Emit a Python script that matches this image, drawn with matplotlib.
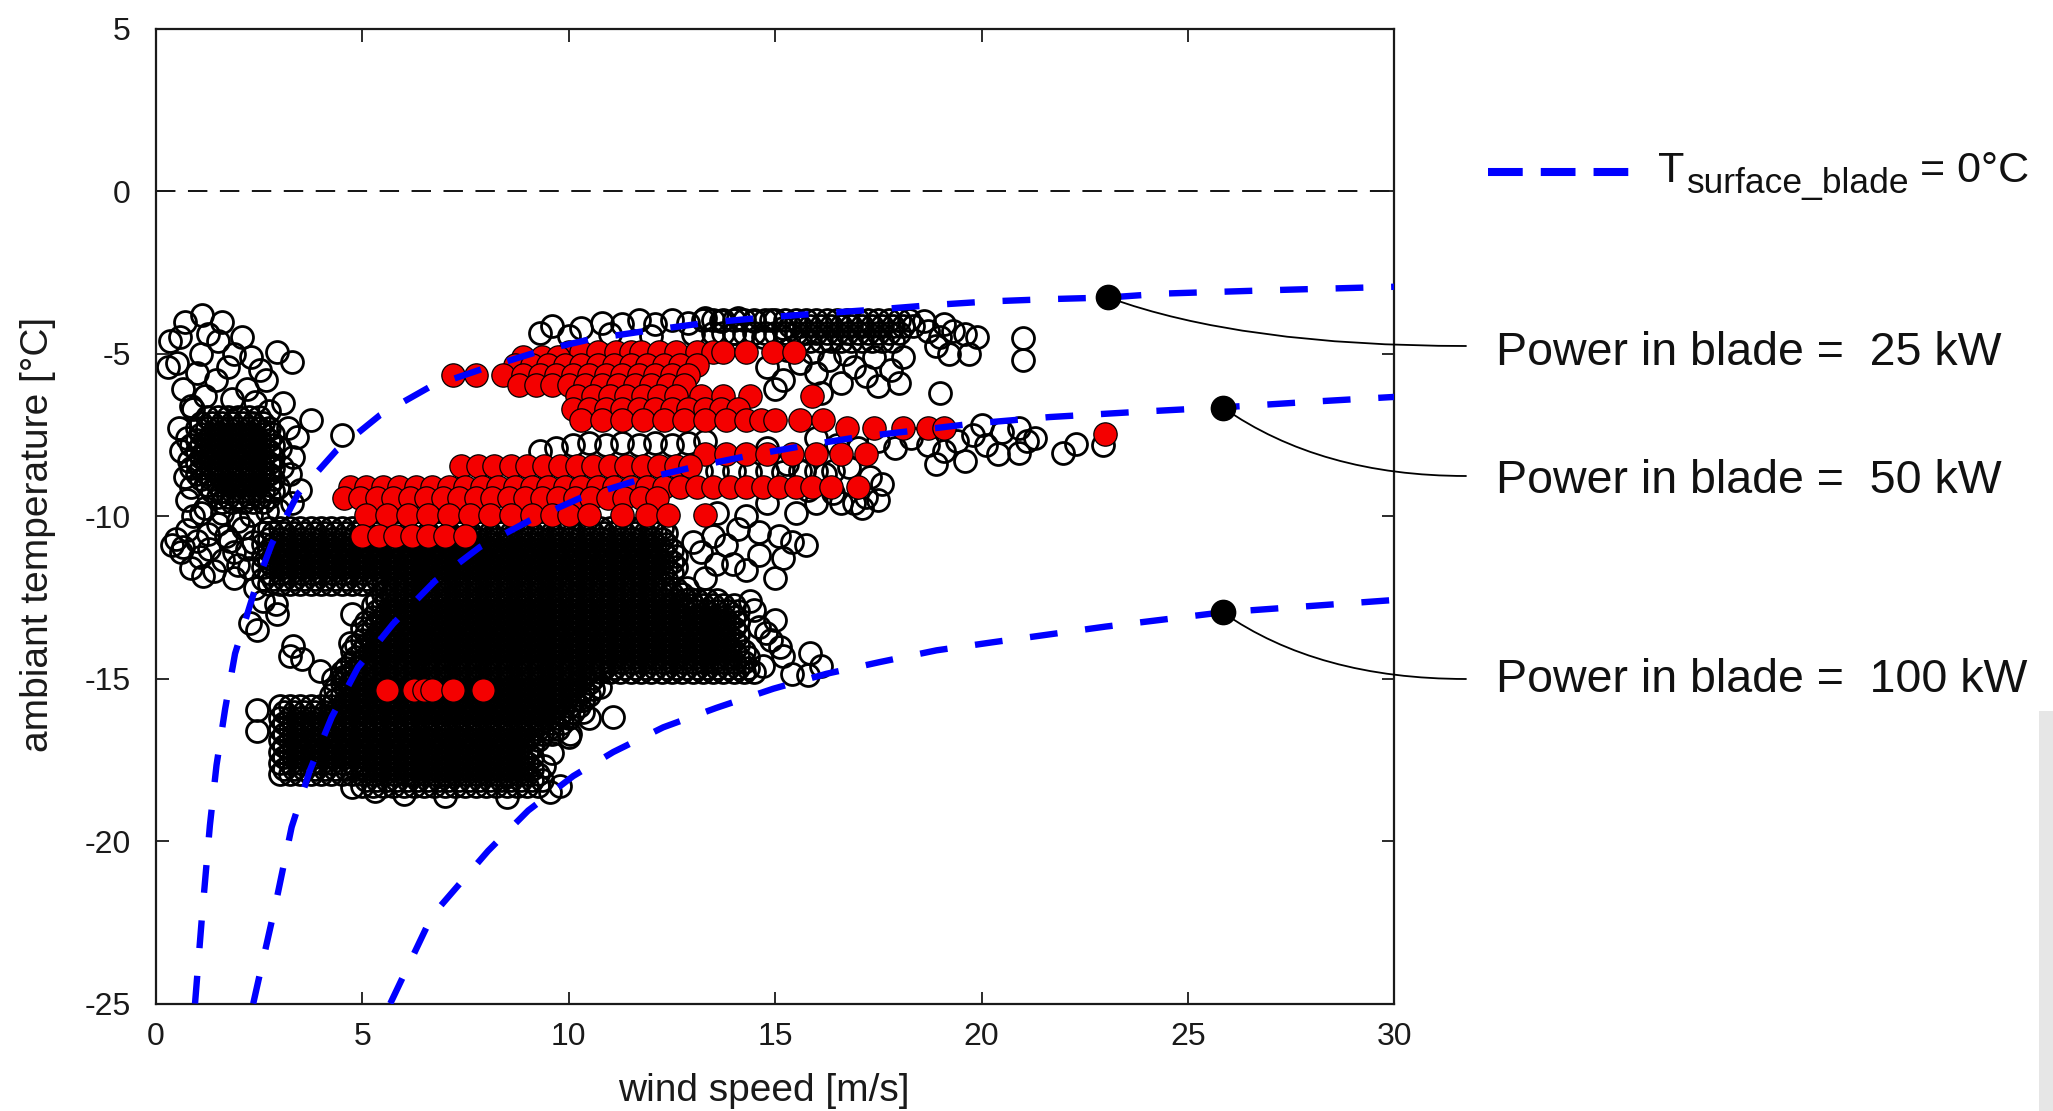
import matplotlib
matplotlib.use("Agg")
import matplotlib.pyplot as plt
from matplotlib.lines import Line2D
from matplotlib.patches import Rectangle

plt.rcParams['font.family'] = ['Liberation Sans', 'DejaVu Sans']
plt.rcParams['axes.unicode_minus'] = False
plt.rcParams['lines.scale_dashes'] = False

# ---------------- data ----------------
# blade-surface = 0 degC boundary curves for 25 / 50 / 100 kW
c25_x = [0.95, 1.12, 1.31, 1.47, 1.68, 1.92, 2.28, 2.44, 2.81, 3.45, 4.38, 5.43, 6.64, 7.93,
         9.38, 10.55, 11.97, 13.34, 14.71, 16.09, 17.46, 18.83, 20.2, 21.65, 23.07, 24.4, 27.15, 30.0]
c25_y = [-25.0, -22.3, -19.52, -17.67, -15.93, -14.23, -12.75, -12.1, -10.85, -9.3, -7.97, -6.89,
         -6.02, -5.46, -4.89, -4.55, -4.28, -4.05, -3.89, -3.76, -3.64, -3.5, -3.39, -3.32, -3.27,
         -3.15, -3.04, -2.94]
c50_x = [2.36, 2.9, 3.29, 3.73, 4.26, 4.9, 5.75, 6.76, 7.85, 9.06, 10.3, 11.65, 13.02, 14.39,
         15.76, 17.05, 18.43, 19.8, 21.65, 23.92, 25.85, 28.1, 30.0]
c50_y = [-25.0, -21.95, -19.57, -17.83, -16.19, -14.65, -13.31, -12.0, -10.95, -10.13, -9.43,
         -8.9, -8.49, -8.13, -7.82, -7.56, -7.36, -7.15, -6.95, -6.78, -6.65, -6.47, -6.33]
c100_x = [5.68, 6.69, 8.05, 9.02, 10.11, 11.08, 12.29, 13.58, 14.96, 16.25, 17.54, 18.91,
          20.28, 23.0, 25.84, 30.0]
c100_y = [-25.0, -22.3, -20.3, -19.06, -18.0, -17.26, -16.5, -15.9, -15.31, -14.85, -14.49,
          -14.13, -13.88, -13.4, -12.96, -12.58]

# annotated points on the curves
dot_x = [23.07, 25.85, 25.84]
dot_y = [-3.27, -6.66, -12.96]
dot_labels = ['Power in blade =  25 kW', 'Power in blade =  50 kW', 'Power in blade =  100 kW']

# wind-speed values used in the dense (overlapping) bands of open circles
xs_A = [0.75, 1.0, 1.25, 1.5, 1.75, 2.0, 2.25, 2.5, 2.75, 3.0, 3.25, 3.5, 3.75, 4.0, 4.25, 4.5,
        4.75, 5.0, 5.25, 5.5, 5.75, 6.0, 6.25, 6.5, 6.75, 7.0, 7.25, 7.5, 7.75, 8.0, 8.25, 8.5,
        8.75, 9.0, 9.25, 9.5, 9.75, 10.0, 10.25, 10.5, 10.75, 11.0, 11.25, 11.5, 11.75, 12.0,
        12.25, 12.5, 12.75, 13.0, 13.25, 13.5, 13.75, 14.0, 14.25, 14.5, 14.75, 15.0, 15.25,
        15.5, 15.75, 16.0, 16.25, 16.5, 16.75, 17.0, 17.25, 17.5, 17.75, 18.0, 18.25, 18.5]
xs_B = [0.85, 1.1, 1.35, 1.6, 1.85, 2.1, 2.35, 2.6, 2.85, 3.1, 3.35, 3.6, 3.85, 4.1, 4.35, 4.6,
        4.85, 5.1, 5.35, 5.6, 5.85, 6.1, 6.35, 6.6, 6.85, 7.1, 7.35, 7.6, 7.85, 8.1, 8.35, 8.6,
        8.85, 9.1, 9.35, 9.6, 9.85, 10.1, 10.35, 10.6, 10.85, 11.1, 11.35, 11.6, 11.85, 12.1,
        12.35, 12.6, 12.85, 13.1, 13.35, 13.6, 13.85, 14.1, 14.35, 14.6, 14.85, 15.1, 15.35,
        15.6, 15.85, 16.1, 16.35, 16.6, 16.85, 17.1, 17.35, 17.6, 17.85, 18.1, 18.35, 18.6]

# dense bands: temperature, which wind-speed list, wind-speed extent
band_y = [-3.95, -4.15, -4.35, -4.6,
          -6.95, -7.12, -7.3, -7.47, -7.65, -7.82, -8.0, -8.17, -8.35, -8.52, -8.7, -8.87,
          -9.05, -9.22, -9.4, -9.57,
          -10.35, -10.52, -10.7, -10.87, -11.05, -11.22, -11.4, -11.57, -11.75, -11.92, -12.08,
          -12.25, -12.4, -12.57, -12.75, -12.92, -13.1, -13.27, -13.45, -13.62, -13.8, -13.97,
          -14.15, -14.32, -14.5, -14.67, -14.8, -14.97, -15.15, -15.32, -15.5, -15.67,
          -15.85, -16.02, -16.2, -16.37, -16.55, -16.72, -16.9, -17.07, -17.25, -17.42, -17.6,
          -17.77, -17.95, -18.12, -18.3]
band_grid = ['A', 'B', 'A', 'B',
             'A', 'B', 'A', 'B', 'A', 'B', 'A', 'B', 'A', 'B', 'A', 'B',
             'A', 'B', 'A', 'B',
             'A', 'B', 'A', 'B', 'A', 'B', 'A', 'B', 'A', 'B', 'A',
             'B', 'A', 'B', 'A', 'B', 'A', 'B', 'A', 'B', 'A', 'B',
             'A', 'B', 'A', 'B', 'A', 'B', 'A', 'B', 'A', 'B',
             'A', 'B', 'A', 'B', 'A', 'B', 'A', 'B', 'A', 'B', 'A',
             'B', 'A', 'B', 'A']
band_lo = [13.25, 15.35, 13.5, 15.6,
           1.25, 1.1, 1.0, 1.1, 1.0, 0.85, 1.0, 1.1, 1.0, 0.85, 1.0, 1.1,
           1.25, 1.35, 1.5, 1.6,
           2.75, 2.6, 2.75, 2.6, 2.75, 2.6, 2.75, 2.6, 2.75, 2.6, 2.75,
           5.6, 5.5, 5.35, 5.25, 5.35, 5.25, 5.1, 5.0, 5.1, 5.0, 4.85,
           4.75, 4.85, 4.75, 4.6, 4.5, 4.6, 4.5, 4.35, 4.25, 4.35,
           3.0, 3.1, 3.0, 3.1, 3.0, 3.1, 3.0, 3.1, 3.0, 3.1, 3.0,
           3.1, 3.0, 5.1, 5.0]
band_hi = [18.25, 18.35, 18.0, 17.85,
           2.5, 2.6, 2.75, 2.85, 2.75, 2.85, 2.75, 2.85, 2.75, 2.85, 2.75, 2.85,
           2.75, 2.85, 2.75, 2.6,
           12.25, 12.35, 12.25, 12.35, 12.5, 12.6, 12.5, 12.6, 12.5, 12.35, 12.25,
           12.6, 12.75, 13.6, 14.0, 14.1, 14.0, 14.1, 14.0, 14.1, 14.0, 14.1,
           14.25, 14.35, 14.25, 14.35, 14.5, 10.6, 10.5, 10.6, 10.5, 10.35,
           10.25, 10.35, 10.0, 9.85, 9.75, 9.6, 9.25, 9.1, 9.0, 9.1, 9.0,
           9.1, 9.25, 9.35, 9.25]

# isolated open circles
sparse_x = [0.71, 1.11, 1.6, 0.59, 1.27, 2.08, 2.93, 3.29, 0.51, 1.1, 1.9, 2.52, 2.68, 0.67, 1.47,
            2.2, 3.09, 0.86, 1.5, 1.75, 1.2, 2.4, 0.35, 0.3, 1.0, 2.3, 1.85, 0.55, 0.6, 0.7, 0.75,
            3.2, 3.41, 3.33, 3.25, 3.49, 3.77, 4.5, 1.1, 2.95, 3.3,
            0.9, 2.75, 3.0, 3.05, 2.95, 0.75, 0.8, 0.85, 1.2, 2.7, 1.6, 2.3,
            0.75, 1.27, 1.8, 0.67, 1.07, 1.63, 0.85, 1.4, 2.0, 2.2, 0.5, 1.5, 2.1, 0.9, 2.4, 1.9,
            0.6, 1.3, 1.9, 2.25, 1.15, 1.7, 2.35, 0.4, 1.0, 2.0,
            2.28, 2.93, 2.45, 3.33, 3.25, 3.98, 4.54, 4.75, 4.7, 2.9, 3.55, 2.6, 4.3,
            2.44, 2.44, 10.35, 10.5, 10.0, 9.6, 10.76, 11.08, 10.03, 9.55, 9.8, 8.5, 7.0, 6.0,
            4.75, 5.3, 9.4,
            14.6, 14.9, 15.2, 15.4, 15.84, 15.8, 14.7, 15.0, 16.1, 14.79, 15.11, 14.5, 14.4,
            12.86, 13.2, 13.5, 13.8, 14.3, 14.3, 14.6, 15.4, 15.76, 13.58, 13.98, 13.3, 13.0,
            14.1, 15.1, 14.6, 15.0, 15.2, 12.95, 13.6, 14.8, 15.5, 16.0, 16.4, 16.9, 17.2, 17.5,
            16.6, 17.1, 15.8,
            14.8, 15.3, 15.7, 16.2, 16.8, 17.3, 17.6, 16.0, 16.5, 17.0, 17.5, 17.9, 18.3, 18.7,
            19.1, 19.4, 19.8, 20.1, 20.4, 19.6, 18.9, 19.0, 20.0, 20.5, 20.9, 21.1, 20.9, 21.3,
            21.98, 22.3, 22.95,
            9.3, 9.7, 10.1, 10.5, 10.9, 11.3, 11.7, 12.1, 12.5, 12.9, 13.3, 13.2, 13.6, 14.0,
            14.4, 14.8, 15.2, 15.6, 16.0, 16.4,
            9.3, 9.6, 10.0, 10.3, 10.8, 11.3, 11.7, 12.1, 12.5, 12.9, 13.3, 13.7, 14.1, 14.5,
            14.9, 15.2, 11.0, 12.0, 13.0, 14.0, 14.7,
            18.7, 19.0, 19.3, 19.6, 19.9, 19.2, 19.7, 18.9, 21.0, 21.0, 18.6, 19.1,
            14.8, 15.2, 15.6, 16.0, 16.3, 16.6, 16.9, 17.2, 17.5, 17.8, 16.1, 18.1, 18.0, 15.9,
            16.7, 17.4, 15.3, 15.0]
sparse_y = [-4.02, -3.81, -4.02, -4.48, -4.38, -4.48, -4.94, -5.25, -5.3, -5.0, -5.0, -5.5, -5.8,
            -6.1, -5.8, -6.1, -6.53, -6.6, -4.6, -5.4, -6.3, -6.5, -4.6, -5.4, -5.6, -5.1, -6.4,
            -7.3, -8.0, -8.8, -9.5, -7.3, -7.56, -8.18, -8.7, -9.2, -7.05, -7.51, -9.9, -9.8, -9.6,
            -6.7, -6.75, -7.9, -8.5, -9.1, -7.6, -8.3, -9.1, -9.75, -9.85, -9.9, -9.95,
            -10.44, -10.54, -10.75, -10.95, -11.26, -11.36, -11.6, -11.7, -11.5, -11.0, -10.7,
            -10.25, -10.35, -10.0, -12.2, -11.9,
            -11.1, -11.0, -11.1, -11.6, -11.85, -10.6, -10.8, -10.9, -10.75, -10.15,
            -13.3, -13.0, -13.5, -14.0, -14.3, -14.76, -14.95, -13.0, -13.9, -12.7, -14.4, -12.6,
            -15.0,
            -15.98, -16.6, -15.67, -16.2, -16.8, -17.3, -15.26, -16.19, -16.7, -18.5, -18.3,
            -18.65, -18.6, -18.55, -18.35, -18.45, -17.7,
            -13.4, -13.8, -14.3, -14.85, -14.2, -14.9, -14.6, -13.2, -14.6, -13.6, -14.03, -12.9,
            -12.6,
            -12.2, -11.1, -10.6, -10.9, -11.67, -10.0, -10.5, -10.8, -10.9, -11.46, -11.46, -11.9,
            -10.8, -10.4, -10.6, -11.2, -11.9, -11.3, -12.55, -9.9, -9.6, -9.9, -9.6, -9.3, -9.6,
            -9.4, -9.5, -9.6, -9.75, -9.2,
            -7.9, -8.4, -8.6, -8.7, -8.5, -8.8, -9.0, -7.6, -7.8, -7.9, -7.7, -7.9, -7.6, -7.8,
            -8.0, -7.7, -7.5, -7.8, -8.1, -8.3, -8.4, -6.2, -7.2, -7.4, -7.3, -7.7, -8.05, -7.6,
            -8.07, -7.77, -7.82,
            -8.0, -7.9, -7.8, -7.75, -7.8, -7.75, -7.8, -7.75, -7.8, -7.75, -7.7, -8.6, -8.6,
            -8.6, -8.65, -8.6, -8.65, -8.6, -8.6, -8.6,
            -4.35, -4.15, -4.45, -4.2, -4.05, -4.1, -3.95, -4.1, -3.95, -4.05, -3.9, -4.0, -3.9,
            -4.0, -3.95, -4.2, -4.4, -4.45, -4.4, -4.35, -4.5,
            -4.3, -4.5, -4.3, -4.4, -4.5, -5.0, -5.0, -4.75, -4.53, -5.2, -4.0, -4.1,
            -5.4, -5.8, -5.3, -5.6, -5.2, -5.9, -5.4, -5.7, -6.0, -5.5, -6.2, -5.1, -5.9, -4.95,
            -5.0, -5.1, -4.9, -6.1]

# filled red circles (rows of constant temperature)
red_row_y = [-4.95, -5.1, -5.35, -5.65, -5.95, -6.3, -6.7, -7.05, -7.3, -7.46, -8.1, -8.45,
             -9.1, -9.45, -9.95, -10.6, -15.35]
red_row_x = [
    [10.0, 10.3, 10.7, 11.15, 11.5, 11.75, 12.2, 12.6, 13.1, 13.5, 13.75, 14.3, 14.95, 15.45],
    [8.9, 9.35, 9.75],
    [8.7, 9.1, 9.5, 9.9, 10.3, 10.7, 11.1, 11.5, 11.9, 12.3, 12.7, 13.1],
    [7.2, 7.75, 8.4, 8.9, 9.3, 9.7, 10.1, 10.5, 10.9, 11.3, 11.7, 12.1, 12.5, 12.9],
    [8.8, 9.2, 9.6, 10.0, 10.4, 10.8, 11.2, 11.6, 12.0, 12.4, 12.8],
    [10.2, 10.6, 11.0, 11.4, 11.8, 12.2, 12.6, 13.2, 13.75, 14.4, 15.9],
    [10.1, 10.5, 10.9, 11.3, 11.7, 12.1, 12.5, 12.9, 13.3, 13.7, 14.1],
    [10.3, 10.8, 11.3, 11.8, 12.3, 12.8, 13.3, 13.8, 14.3, 14.65, 15.0, 15.6, 16.15],
    [16.75, 17.4, 18.1, 18.7, 19.1],
    [22.99],
    [13.3, 13.8, 14.3, 14.8, 15.4, 16.0, 16.6, 17.2],
    [7.4, 7.8, 8.2, 8.6, 9.0, 9.4, 9.8, 10.2, 10.6, 11.0, 11.4, 11.8, 12.2, 12.6, 12.95],
    [4.7, 5.1, 5.5, 5.9, 6.3, 6.7, 7.1, 7.5, 7.9, 8.3, 8.7, 9.1, 9.5, 9.9, 10.3, 10.7, 11.1,
     11.5, 11.9, 12.3, 12.7, 13.1, 13.5, 13.9, 14.3, 14.7, 15.1, 15.5, 15.9, 16.35, 17.0],
    [4.55, 4.95, 5.35, 5.75, 6.15, 6.55, 6.95, 7.35, 7.75, 8.15, 8.55, 8.95, 9.35, 9.75, 10.15,
     10.55, 10.95, 11.35, 11.75, 12.15],
    [5.1, 5.6, 6.1, 6.6, 7.1, 7.6, 8.1, 8.6, 9.1, 9.6, 10.0, 10.5, 11.3, 11.9, 12.4, 13.3],
    [5.0, 5.4, 5.8, 6.2, 6.6, 7.0, 7.5],
    [5.6, 6.25, 6.5, 6.7, 7.2, 7.93],
]

x_ticks = [0, 5, 10, 15, 20, 25, 30]
y_ticks = [-25, -20, -15, -10, -5, 0, 5]

# ---------------- figure ----------------
W, H = 2053, 1111
fig = plt.figure(figsize=(W / 100, H / 100), dpi=100)
ax = fig.add_axes([155.8 / W, 1 - 1003.5 / H, (1394.4 - 155.8) / W, (1003.5 - 28.8) / H])

# open black circles
grids = {'A': xs_A, 'B': xs_B}
bx, by = [], []
for y, g, lo, hi in zip(band_y, band_grid, band_lo, band_hi):
    vals = [v for v in grids[g] if lo - 1e-9 <= v <= hi + 1e-9]
    bx += vals
    by += [y] * len(vals)
bx += sparse_x
by += sparse_y
ax.plot(bx, by, linestyle='none', marker='o', ms=15.8, mfc='none', mec='black', mew=2.0,
        zorder=2)

# red filled circles
rx, ry = [], []
for y, xs in zip(red_row_y, red_row_x):
    rx += xs
    ry += [y] * len(xs)
ax.plot(rx, ry, linestyle='none', marker='o', ms=16.8, mfc='#f40000', mec='black', mew=0.9,
        zorder=3)

# zero line
ax.axhline(0, color='black', lw=1.3, dashes=(14, 9), zorder=1)

# boundary curves
for cx, cy in [(c25_x, c25_y), (c50_x, c50_y), (c100_x, c100_y)]:
    ax.plot(cx, cy, color='#0000ff', lw=4.6, dashes=(20, 20), zorder=4)

# annotated dots
ax.plot(dot_x, dot_y, linestyle='none', marker='o', ms=17.5, color='black', zorder=6,
        clip_on=False)

ax.set_xlim(0, 30)
ax.set_ylim(-25, 5)
ax.set_xticks(x_ticks)
ax.set_yticks(y_ticks)
ax.tick_params(direction='in', length=9, width=1.3, top=True, right=True, labelsize=23,
               colors='#1a1a1a')
ax.tick_params(axis='x', pad=13)
ax.tick_params(axis='y', pad=18)
for s in ax.spines.values():
    s.set_linewidth(1.6)
    s.set_color('#1a1a1a')

ax.set_xlabel('wind speed [m/s]', fontsize=28, color='#1a1a1a')
ax.xaxis.set_label_coords(0.491, -0.071)
ax.set_ylabel('ambiant temperature [°C]', fontsize=28, color='#1a1a1a')
ax.yaxis.set_label_coords(-0.087, 0.481)
ax.yaxis.label.set_verticalalignment('baseline')

# connector lines + labels
line_end_y = [346, 476, 679]
label_base = [365, 493, 692]
angB = [-20, -35, -35]
for dx, dy, ly, lb, a, txt in zip(dot_x, dot_y, line_end_y, label_base, angB, dot_labels):
    ax.annotate('', xy=(dx, dy), xycoords='data',
                xytext=(1466 / W, 1 - ly / H), textcoords='figure fraction',
                arrowprops=dict(arrowstyle='-', lw=1.3, color='black', shrinkA=0, shrinkB=0,
                                connectionstyle='angle3,angleA=0,angleB=%d' % a),
                annotation_clip=False, zorder=5)
    fig.text(1496 / W, 1 - lb / H, txt, fontsize=33.5, ha='left', va='baseline',
             color='#111111')

# legend entry
fig.add_artist(Line2D([1488 / W, 1630 / W], [1 - 171.5 / H] * 2, transform=fig.transFigure,
                      color='#0000ff', lw=5.8, dashes=(25, 13)))
fig.text(1658 / W, 1 - 182 / H, 'T', fontsize=31, ha='left', va='baseline', color='#111111')
fig.text(1687 / W, 1 - 193 / H, 'surface_blade', fontsize=25.5, ha='left', va='baseline',
         color='#111111')
fig.text(1920 / W, 1 - 182 / H, '= 0°C', fontsize=31, ha='left', va='baseline', color='#111111')

# light grey strip at the right edge of the screenshot
fig.add_artist(Rectangle((2039 / W, 0), 14 / W, 0.36, transform=fig.transFigure,
                         color='#e6e6e6', lw=0))

fig.savefig('out.png', dpi=100)
